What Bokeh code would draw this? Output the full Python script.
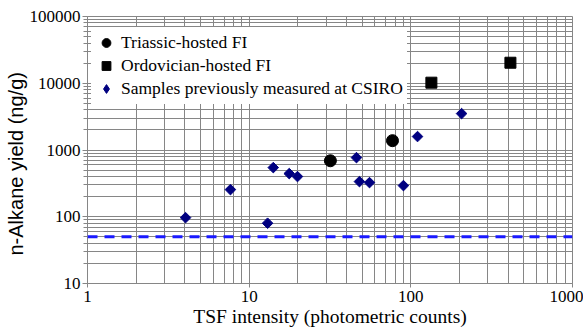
import math
from bokeh.plotting import figure
from bokeh.models import FixedTicker, Legend, LegendItem, Span, Title
from bokeh.embed import file_html
from bokeh.resources import INLINE

# ---- data ----
triassic_x = [31.8, 77.0]
triassic_y = [690, 1380]
ordovician_x = [134, 413]
ordovician_y = [10200, 20300]
csiro_x = [4.04, 7.66, 13.0, 14.1, 17.7, 19.9, 46.1, 48.1, 55.5, 90.0, 110, 206]
csiro_y = [97, 255, 80, 545, 443, 400, 769, 336, 325, 293, 1590, 3510]
detection_limit = 50
x_ticks = [1, 10, 100, 1000]
y_ticks = [10, 100, 1000, 10000, 100000]
x_minor = [m * 10 ** k for k in range(0, 3) for m in range(2, 10)]
y_minor = [m * 10 ** k for k in range(1, 5) for m in range(2, 10)]

FONT = "'Liberation Serif', 'DejaVu Serif', serif"
SANS = "'Liberation Sans', Arial, sans-serif"
GRID = "#868686"

p = figure(width=583, height=334, x_axis_type="log", y_axis_type="log",
           x_range=(1, 1000), y_range=(10, 100000),
           output_backend="svg", toolbar_location=None,
           min_border_left=87, min_border_right=11,
           min_border_top=16, min_border_bottom=51)
p.background_fill_color = "white"
p.border_fill_color = "white"
p.outline_line_color = GRID

xt = FixedTicker(ticks=x_ticks, minor_ticks=x_minor)
yt = FixedTicker(ticks=y_ticks, minor_ticks=y_minor)
p.xaxis.ticker = xt
p.yaxis.ticker = yt
p.xgrid.ticker = xt
p.ygrid.ticker = yt
p.xaxis.major_label_overrides = {v: str(v) for v in x_ticks}
p.yaxis.major_label_overrides = {v: str(v) for v in y_ticks}

for g in (p.xgrid, p.ygrid):
    g.grid_line_color = GRID
    g.grid_line_width = 1
    g.minor_grid_line_color = GRID
    g.minor_grid_line_width = 1

for ax in (p.xaxis, p.yaxis):
    ax.axis_line_color = GRID
    ax.major_tick_line_color = GRID
    ax.minor_tick_line_color = GRID
    ax.major_tick_in = 0
    ax.minor_tick_in = 0
    ax.major_label_text_font = FONT
    ax.major_label_text_font_size = "17px"
    ax.major_label_text_color = "black"
    ax.axis_label_text_font = FONT
    ax.axis_label_text_font_size = "19.5px"
    ax.axis_label_text_font_style = "normal"
    ax.axis_label_text_color = "black"

p.xaxis.major_tick_out = 4
p.xaxis.minor_tick_out = 0
p.yaxis.major_tick_out = 5
p.yaxis.minor_tick_out = 4
p.xaxis.major_label_standoff = 3
p.yaxis.major_label_standoff = 2
p.xaxis.axis_label_standoff = 1
p.xaxis.axis_label = "TSF intensity (photometric counts)"

# y-axis title as a side title (allows shifting it along the axis)
ytitle = Title(text="n-Alkane yield (ng/g)", align="left", offset=28,
               text_font=SANS, text_font_size="20px", text_font_style="normal",
               text_color="black", standoff=0)
p.add_layout(ytitle, "left")

# detection-limit dashed line
p.add_layout(Span(location=detection_limit, dimension="width",
                  line_color="#1a1aff", line_width=3, line_dash="10 7"))

r_tri = p.scatter(triassic_x, triassic_y, marker="circle", size=12,
                  fill_color="black", line_color="black")
r_ord = p.scatter(ordovician_x, ordovician_y, marker="square", size=11,
                  fill_color="black", line_color="black")
r_cs = p.scatter(csiro_x, csiro_y, marker="square", size=7.5, angle=math.pi / 4,
                 fill_color="#000080", line_color="#000080")
# legend-only renderer (diamond shape), hidden in the plot
r_cs_leg = p.scatter(csiro_x, csiro_y, marker="diamond", size=11,
                     fill_color="#000080", line_color="#000080", visible=False)

legend = Legend(items=[
    LegendItem(label="Triassic-hosted FI", renderers=[r_tri]),
    LegendItem(label="Ordovician-hosted FI", renderers=[r_ord]),
    LegendItem(label="Samples previously measured at CSIRO", renderers=[r_cs_leg]),
], location=(4, 179))
legend.label_text_font = FONT
legend.label_text_font_size = "17.5px"
legend.label_text_color = "black"
legend.glyph_width = 22
legend.glyph_height = 23
legend.label_height = 23
legend.spacing = 0
legend.padding = 4
legend.label_standoff = 4
legend.border_line_alpha = 0
legend.background_fill_color = "white"
legend.background_fill_alpha = 1
legend.inactive_fill_alpha = 0
p.add_layout(legend)

open("out.html", "w").write(file_html(p, INLINE))
